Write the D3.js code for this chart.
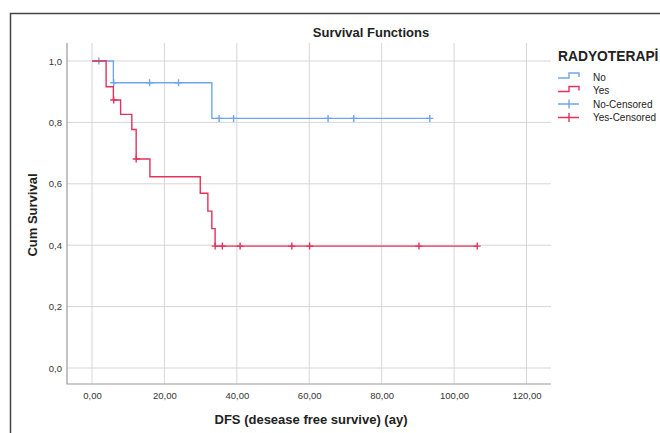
<!DOCTYPE html>
<html>
<head>
<meta charset="utf-8">
<script src="https://cdn.jsdelivr.net/npm/d3@7"></script>
<style>
  body { margin: 0; background: #fff; }
  svg text { font-family: "Liberation Sans", Arial, sans-serif; }
</style>
</head>
<body>
<div id="chart"></div>
<script>
// Kaplan-Meier steps
const noEventTimes = [0, 5.9, 33.1];
const noSurvival = [1.0, 0.929, 0.813];
const noCensored = [1.9, 6.0, 15.9, 23.9, 35.1, 39.1, 65.2, 72.3, 93.3];

const yesEventTimes = [0, 3.9, 5.9, 7.9, 11.0, 12.2, 16.0, 29.9, 32.0, 33.1, 34.0];
const yesSurvival = [1.0, 0.916, 0.873, 0.826, 0.777, 0.681, 0.623, 0.569, 0.511, 0.454, 0.397];
const yesCensored = [6.0, 12.2, 34.0, 36.0, 40.9, 55.2, 60.1, 90.3, 106.4];

const xTicks = [0, 20, 40, 60, 80, 100, 120];
const yTicks = [0, 0.2, 0.4, 0.6, 0.8, 1.0];
const legendLabels = ["No", "Yes", "No-Censored", "Yes-Censored"];

const blue = "#6fa6ea",
    red = "#e5325c";

let width = 660,
    height = 433;

let svg = d3.select("#chart").append("svg")
    .attr("width", width)
    .attr("height", height);

let locale = d3.formatLocale({decimal: ",", thousands: ".", grouping: [3], currency: ["", ""]});

let x = d3.scaleLinear().domain([0, 120]).range([92, 526.5]);
let y = d3.scaleLinear().domain([0, 1]).range([368, 61]);

let plotLeft = 67, plotRight = 551, plotTop = 43, plotBottom = 384;

// outer frame
svg.append("path")
    .attr("d", `M10.5,${height + 2}V13.5H${width + 2}`)
    .attr("fill", "none")
    .attr("stroke", "#444")
    .attr("stroke-width", 1.5);

// grid
svg.append("g").selectAll("line")
    .data(xTicks)
    .enter().append("line")
    .attr("x1", (d)=>x(d)).attr("x2", (d)=>x(d))
    .attr("y1", plotTop).attr("y2", plotBottom)
    .attr("stroke", "#d6d6d6");

svg.append("g").selectAll("line")
    .data(yTicks)
    .enter().append("line")
    .attr("x1", plotLeft).attr("x2", plotRight)
    .attr("y1", (d)=>y(d)).attr("y2", (d)=>y(d))
    .attr("stroke", "#d6d6d6");

// axes
let yAxis = svg.append("g")
    .attr("transform", `translate(${plotLeft},0)`)
    .call(d3.axisLeft(y).tickValues(yTicks).tickSize(0).tickPadding(5).tickFormat(locale.format(".1f")));
yAxis.select(".domain").remove();

let xAxis = svg.append("g")
    .attr("transform", `translate(0,${plotBottom})`)
    .call(d3.axisBottom(x).tickValues(xTicks).tickSize(0).tickPadding(8).tickFormat(locale.format(".2f")));
xAxis.select(".domain").remove();

svg.selectAll(".tick text")
    .attr("font-family", "Liberation Sans, Arial, sans-serif")
    .attr("font-size", 9.5)
    .attr("fill", "#333");

svg.append("path")
    .attr("d", `M${plotLeft},${plotTop}V${plotBottom}H${plotRight}`)
    .attr("fill", "none")
    .attr("stroke", "#9a9a9a")
    .attr("stroke-width", 1.2);

// survival curves
function stepData(times, surv, censored) {
    let end = d3.max(censored);
    let pts = times.map((t, i)=>[t, surv[i]]);
    pts.push([end, surv[surv.length - 1]]);
    return pts;
}

function survAt(times, surv, t) {
    let i = d3.bisectRight(times, t) - 1;
    return surv[Math.max(i, 0)];
}

let line = d3.line()
    .x((d)=>x(d[0]))
    .y((d)=>y(d[1]))
    .curve(d3.curveStepAfter);

let groups = [
    {times: noEventTimes, surv: noSurvival, cens: noCensored, color: blue},
    {times: yesEventTimes, surv: yesSurvival, cens: yesCensored, color: red}
];

groups.forEach((g)=>{
    svg.append("path")
        .attr("d", line(stepData(g.times, g.surv, g.cens)))
        .attr("fill", "none")
        .attr("stroke", g.color)
        .attr("stroke-width", 1.4);

    svg.append("g").selectAll("path")
        .data(g.cens)
        .enter().append("path")
        .attr("d", (d)=>{
            let cx = x(d), cy = y(survAt(g.times, g.surv, d));
            return `M${cx - 3.5},${cy}H${cx + 3.5}M${cx},${cy - 3.5}V${cy + 3.5}`;
        })
        .attr("stroke", g.color)
        .attr("stroke-width", 1.4);
});

// titles
svg.append("text")
    .attr("x", 371).attr("y", 37)
    .attr("text-anchor", "middle")
    .attr("font-size", 13).attr("font-weight", "bold")
    .attr("fill", "#222")
    .text("Survival Functions");

svg.append("text")
    .attr("x", 311).attr("y", 424)
    .attr("text-anchor", "middle")
    .attr("font-size", 13).attr("font-weight", "bold")
    .attr("fill", "#222")
    .text("DFS (desease free survive) (ay)");

svg.append("text")
    .attr("transform", "translate(37,215) rotate(-90)")
    .attr("text-anchor", "middle")
    .attr("font-size", 13).attr("font-weight", "bold")
    .attr("fill", "#222")
    .text("Cum Survival");

// legend
let legend = svg.append("g");
legend.append("text")
    .attr("x", 558).attr("y", 61)
    .attr("font-size", 13.8).attr("font-weight", "bold")
    .attr("fill", "#222")
    .text("RADYOTERAPİ");

let legendColors = [blue, red, blue, red];
legendLabels.forEach((lab, i)=>{
    let ly = 77 + i * 13.5;
    let icon = i < 2
        ? `M558,${ly + 1}H569V${ly - 4}H579V${ly}`
        : `M558,${ly}H579M569,${ly - 4.5}V${ly + 4.5}`;
    legend.append("path")
        .attr("d", icon)
        .attr("fill", "none")
        .attr("stroke", legendColors[i])
        .attr("stroke-width", 1.4);
    legend.append("text")
        .attr("x", 593).attr("y", ly + 3.5)
        .attr("font-size", 10)
        .attr("fill", "#222")
        .text(lab);
});
</script>
</body>
</html>
